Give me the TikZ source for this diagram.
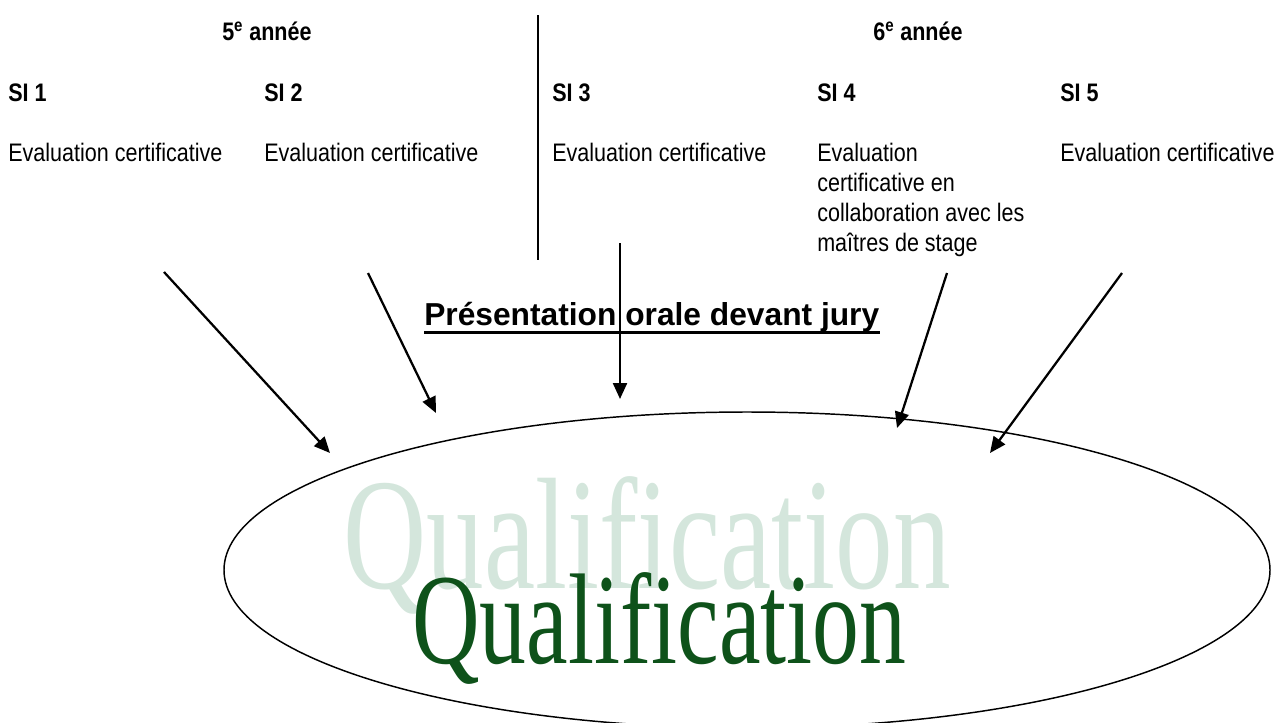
\documentclass[tikz,border=0pt]{standalone}
\usepackage{fontspec}
\setmainfont{Liberation Sans}
\newfontfamily\etroite[FakeStretch=0.85]{Liberation Sans}
\newfontfamily\qualiffont[Ligatures=CommonOff]{Liberation Serif}
\usepackage{tikz}
\usetikzlibrary{arrows.meta,positioning,shapes.geometric}
\definecolor{vertpale}{RGB}{212,230,220}
\definecolor{vertfonce}{RGB}{14,82,26}
\tikzset{titre/.style={font=\etroite\bfseries\fontsize{19}{22.5}\selectfont,anchor=base west,inner sep=0pt},eval/.style={font=\etroite\fontsize{19}{22.5}\selectfont,anchor=base west,inner sep=0pt},fleche/.style={-{Triangle[length=12pt,width=10.5pt]},line width=1.7pt}}

\begin{document}
\begin{tikzpicture}[x=0.75pt,y=-0.75pt]
\useasboundingbox (0,0) rectangle (1277,722);
\node[titre] (an5) at (222,40) {5\textsuperscript{e} année};
\node[titre] (an6) at (873,40) {6\textsuperscript{e} année};
\node[titre] (si1) at (8,101) {SI 1};
\node[titre] (si2) at (264,101) {SI 2};
\node[titre] (si3) at (552,101) {SI 3};
\node[titre] (si4) at (817,101) {SI 4};
\node[titre] (si5) at (1060,101) {SI 5};
\node[eval] (ev1) at (8,161) {Evaluation certificative};
\node[eval] (ev2) at (264,161) {Evaluation certificative};
\node[eval] (ev3) at (552,161) {Evaluation certificative};
\node[eval] (ev4) at (817,161) {\begin{tabular}[t]{@{}l@{}}Evaluation\\certificative en\\collaboration avec les\\maîtres de stage\end{tabular}};
\node[eval] (ev5) at (1060,161) {Evaluation certificative};
% separation 5e / 6e annee
\coordinate (sepH) at (538,15);
\coordinate (sepB) at (538,260);
\draw[line width=1.6pt] (sepH) -- (sepB);
% presentation orale
\node[anchor=base west,inner sep=0pt,font=\bfseries\fontsize{23.8}{28}\selectfont] (pres) at (424,325) {Présentation orale devant jury};
\draw[line width=2.3pt] ([yshift=-5.3pt]pres.base west) -- ([yshift=-5.3pt]pres.base east);
% qualification
\node[draw,ellipse,line width=1.1pt,minimum width=784.5pt,minimum height=237pt,inner sep=0pt] (qualif) at (747,570) {};
\node[anchor=base west,inner sep=0pt,text=vertpale,font=\qualiffont\fontsize{86.4}{90}\selectfont] (qpale) at (343,588) {\scalebox{1}[1.38]{Qualification}};
\node[anchor=base west,inner sep=0pt,text=vertfonce,font=\qualiffont\fontsize{70.2}{72}\selectfont] (qfonce) at (412,663) {\scalebox{1}[1.38]{Qualification}};
% fleches
\coordinate (d1) at (164,272); \coordinate (f1) at (330,453);
\coordinate (d2) at (368,273); \coordinate (f2) at (436,413);
\coordinate (d3) at (620,243); \coordinate (f3) at (620,399);
\coordinate (d4) at (947,273); \coordinate (f4) at (897,428);
\coordinate (d5) at (1122,273); \coordinate (f5) at (990,453);
\foreach \i in {1,...,5}
  \draw[fleche] (d\i) -- (f\i);
\end{tikzpicture}
\end{document}
